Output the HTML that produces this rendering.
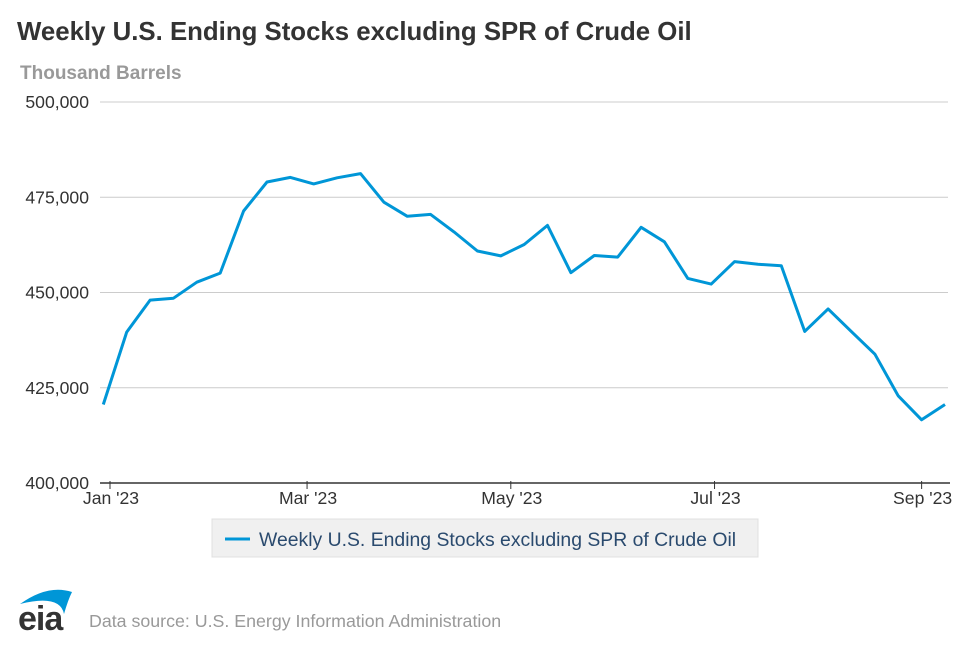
<!DOCTYPE html>
<html><head><meta charset="utf-8"><style>
body{margin:0;width:970px;height:647px;background:#fff;font-family:"Liberation Sans",Arial,sans-serif;overflow:hidden}
</style></head><body>
<svg width="970" height="647" font-family="Liberation Sans, Arial, sans-serif">
<text x="17" y="40" font-size="25.8" font-weight="bold" fill="#333">Weekly U.S. Ending Stocks excluding SPR of Crude Oil</text>
<text x="20" y="79" font-size="19" font-weight="bold" fill="#999">Thousand Barrels</text>
<g id="grid"></g><g id="xaxis"></g>
<path id="line" fill="none" stroke="#0096d7" stroke-width="3" stroke-linejoin="round"/>
<g>
<rect x="212" y="519" width="546" height="38" fill="#f0f0f0" stroke="#e0e0e0"/>
<line x1="225" y1="539" x2="250" y2="539" stroke="#0096d7" stroke-width="3"/>
<text x="259" y="546" font-size="19.4" fill="#2a4a6e">Weekly U.S. Ending Stocks excluding SPR of Crude Oil</text>
</g>
<g>
<path d="M20 604 Q48 584 72 592 Q68 600 64 614 Q60 594 20 604Z" fill="#0096d7"/>
<text x="18" y="630" font-size="34" font-weight="bold" fill="#333" letter-spacing="-1">eia</text>
</g>
<text x="89" y="627" font-size="17.8" fill="#999">Data source: U.S. Energy Information Administration</text>
</svg>
<script>
const yTicks=[400000,425000,450000,475000,500000];
const xTickLabels=["Jan '23","Mar '23","May '23","Jul '23","Sep '23"];
const xTickDays=[0,59,120,181,243];
const dates=[-2,5,12,19,26,33,40,47,54,61,68,75,82,89,96,103,110,117,124,131,138,145,152,159,166,173,180,187,194,201,208,215,222,229,236,243,250];
const values=[420600,439600,448000,448500,452700,455100,471400,479000,480200,478500,480100,481200,473700,470000,470500,465900,460900,459600,462600,467600,455200,459700,459300,467100,463300,453700,452200,458100,457400,457000,439800,445700,439700,433800,422900,416600,420600];
const ns="http://www.w3.org/2000/svg";
const X=d=>110+d*3.34, Y=v=>483-(v-400000)/100000*381;
const grid=document.getElementById('grid'), xa=document.getElementById('xaxis');
yTicks.forEach(t=>{
 if(t>400000){const l=document.createElementNS(ns,'line');
 l.setAttribute('x1',100);l.setAttribute('x2',948);l.setAttribute('y1',Y(t));l.setAttribute('y2',Y(t));l.setAttribute('stroke','#ccc');
 
 
 grid.appendChild(l);}
 const tx=document.createElementNS(ns,'text');
 tx.setAttribute('x',89);tx.setAttribute('y',Y(t)+6);tx.setAttribute('text-anchor','end');tx.setAttribute('font-size','17.6');tx.setAttribute('fill','#333');
 tx.textContent=t.toLocaleString('en-US');
 
 
 grid.appendChild(tx);
});
const ax=document.createElementNS(ns,'line');
ax.setAttribute('x1',100);ax.setAttribute('x2',950);ax.setAttribute('y1',483);ax.setAttribute('y2',483);ax.setAttribute('stroke','#333');ax.setAttribute('stroke-width','1.5');


xa.appendChild(ax);
xTickDays.forEach((d,i)=>{
 const l=document.createElementNS(ns,'line');
 l.setAttribute('x1',X(d));l.setAttribute('x2',X(d));l.setAttribute('y1',481);l.setAttribute('y2',489);l.setAttribute('stroke','#333');
 
 
 xa.appendChild(l);
 const tx=document.createElementNS(ns,'text');
 tx.setAttribute('x',X(d)+1);tx.setAttribute('y',504);tx.setAttribute('text-anchor','middle');tx.setAttribute('font-size','17.6');tx.setAttribute('fill','#333');
 tx.textContent=xTickLabels[i];
 
 
 xa.appendChild(tx);
});
document.getElementById('line').setAttribute('d',values.map((v,i)=>(i?'L':'M')+Math.max(101,X(dates[i])).toFixed(1)+' '+Y(v).toFixed(1)).join(' '));
</script>
</body></html>
